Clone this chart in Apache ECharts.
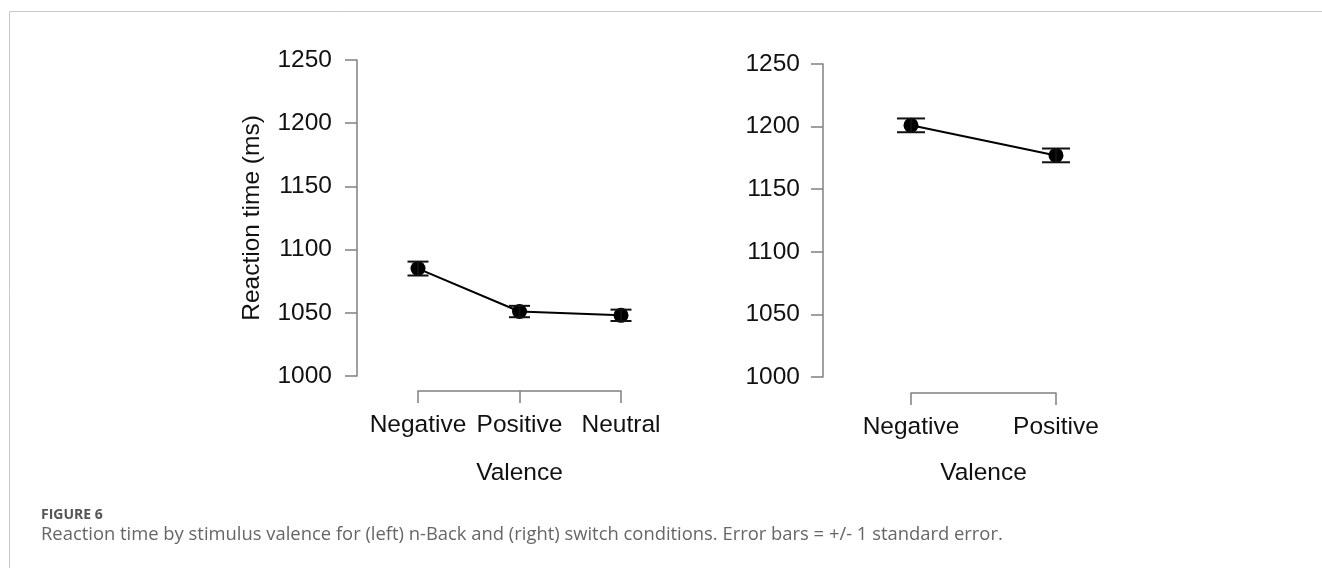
<!DOCTYPE html>
<html>
<head>
<meta charset="utf-8">
<script src="https://cdn.jsdelivr.net/npm/echarts@6/dist/echarts.min.js"></script>
<style>
  html, body { margin: 0; padding: 0; background: #fff; }
  #chart { width: 1322px; height: 568px; }
</style>
</head>
<body>
<div id="chart"></div>
<script>
// left panel: n-Back
const nbackCats = ['Negative', 'Positive', 'Neutral'];
const nbackMean = [1085, 1051, 1048];
const nbackSE = [5.5, 4.5, 4.5];

// right panel: switch
const switchCats = ['Negative', 'Positive'];
const switchMean = [1201, 1177];
const switchSE = [5.5, 5.5];

const yMin = 1000;
const yMax = 1250;
const yStep = 50;

const axisGray = '#808080';
const textFont = 'Liberation Sans';
const textSize = 24.5;

function errData(mean, se) {
    return mean.map((m, i) => [i, m - se[i], m + se[i]]);
}

function errRender(capHalf) {
    return function (params, api) {
        const lo = api.coord([api.value(0), api.value(1)]);
        const hi = api.coord([api.value(0), api.value(2)]);
        const style = {stroke: '#111', lineWidth: 2};
        return {
            type: 'group',
            children: [
                {type: 'line', shape: {x1: lo[0], y1: lo[1], x2: hi[0], y2: hi[1]}, style: style},
                {type: 'line', shape: {x1: lo[0] - capHalf, y1: lo[1], x2: lo[0] + capHalf, y2: lo[1]}, style: style},
                {type: 'line', shape: {x1: hi[0] - capHalf, y1: hi[1], x2: hi[0] + capHalf, y2: hi[1]}, style: style},
            ],
        };
    };
}

function xAxisCfg(gridIndex, cats, offset, nameGap) {
    return {
        gridIndex: gridIndex,
        type: 'category',
        data: cats,
        boundaryGap: false,
        offset: offset,
        name: 'Valence',
        nameLocation: 'middle',
        nameGap: nameGap,
        nameTextStyle: {color: '#111', fontSize: textSize, fontFamily: textFont},
        axisLine: {lineStyle: {color: axisGray, width: 1.5}},
        axisTick: {show: true, length: 12, alignWithLabel: true, lineStyle: {color: axisGray, width: 1.5}},
        axisLabel: {color: '#111', fontSize: textSize, fontFamily: textFont, margin: 22, interval: 0},
        splitLine: {show: false},
    };
}

function yAxisCfg(gridIndex, offset, margin, name) {
    return {
        gridIndex: gridIndex,
        type: 'value',
        min: yMin,
        max: yMax,
        interval: yStep,
        offset: offset,
        name: name,
        nameLocation: 'middle',
        nameGap: 92,
        nameRotate: 90,
        nameTextStyle: {color: '#111', fontSize: textSize, fontFamily: textFont},
        axisLine: {show: true, lineStyle: {color: axisGray, width: 1.5}},
        axisTick: {show: true, length: 12, lineStyle: {color: axisGray, width: 1.5}},
        axisLabel: {
            color: '#111',
            fontSize: textSize,
            fontFamily: textFont,
            margin: margin,
            formatter: (v) => String(v),
        },
        splitLine: {show: false},
    };
}

const chart = echarts.init(document.getElementById('chart'));
chart.setOption({
    animation: false,
    backgroundColor: '#fff',
    grid: [
        {left: 418, top: 60, width: 203, height: 316},
        {left: 911, top: 64, width: 145, height: 313},
    ],
    xAxis: [
        xAxisCfg(0, nbackCats, 15, 70),
        xAxisCfg(1, switchCats, 16, 68),
    ],
    yAxis: [
        yAxisCfg(0, 61, 25, 'Reaction time (ms)'),
        yAxisCfg(1, 88, 23, ''),
    ],
    series: [
        {
            name: 'n-Back SE',
            type: 'custom',
            xAxisIndex: 0,
            yAxisIndex: 0,
            renderItem: errRender(10.5),
            encode: {x: 0, y: [1, 2]},
            data: errData(nbackMean, nbackSE),
            z: 3,
        },
        {
            name: 'n-Back',
            type: 'line',
            xAxisIndex: 0,
            yAxisIndex: 0,
            symbol: 'circle',
            symbolSize: 15,
            itemStyle: {color: '#000'},
            lineStyle: {color: '#000', width: 2},
            data: nbackMean,
            z: 2,
        },
        {
            name: 'switch SE',
            type: 'custom',
            xAxisIndex: 1,
            yAxisIndex: 1,
            renderItem: errRender(14),
            encode: {x: 0, y: [1, 2]},
            data: errData(switchMean, switchSE),
            z: 3,
        },
        {
            name: 'switch',
            type: 'line',
            xAxisIndex: 1,
            yAxisIndex: 1,
            symbol: 'circle',
            symbolSize: 15,
            itemStyle: {color: '#000'},
            lineStyle: {color: '#000', width: 2},
            data: switchMean,
            z: 2,
        },
    ],
    graphic: [
        {type: 'line', shape: {x1: 9.5, y1: 11.5, x2: 1322, y2: 11.5}, style: {stroke: '#c8c8c8', lineWidth: 1}},
        {type: 'line', shape: {x1: 9.5, y1: 11.5, x2: 9.5, y2: 568}, style: {stroke: '#c8c8c8', lineWidth: 1}},
        {
            type: 'text',
            left: 41,
            top: 508,
            style: {text: 'FIGURE 6', fill: '#555', font: 'bold 14px "Open Sans"'},
        },
        {
            type: 'text',
            left: 41,
            top: 526,
            style: {
                text: 'Reaction time by stimulus valence for (left) n-Back and (right) switch conditions. Error bars = +/- 1 standard error.',
                fill: '#666',
                font: '18.4px "Open Sans"',
            },
        },
    ],
});
</script>
</body>
</html>
